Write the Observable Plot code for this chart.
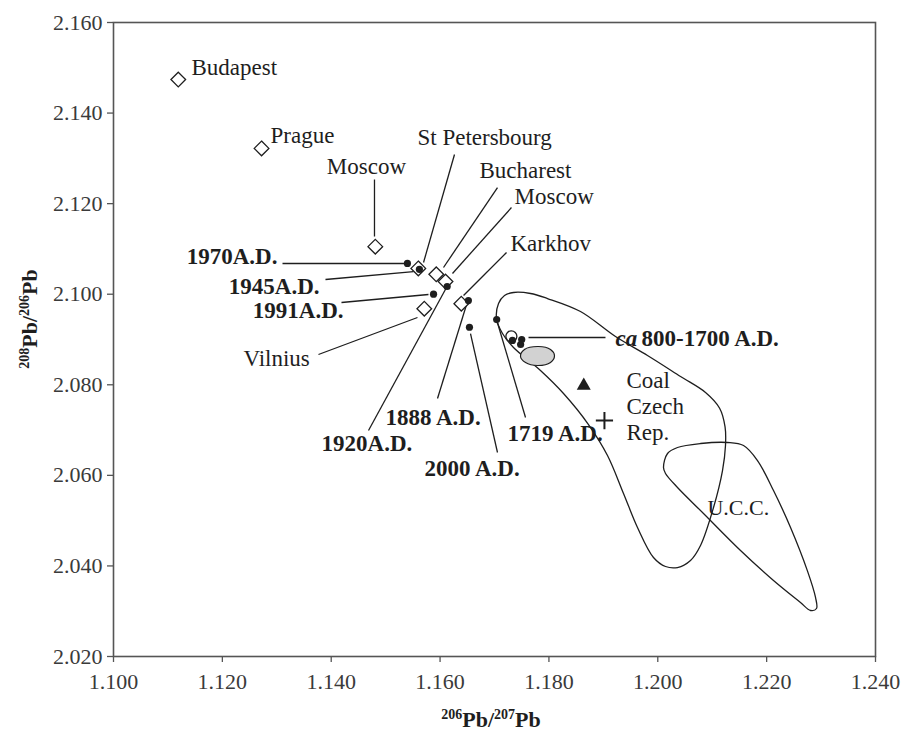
<!DOCTYPE html>
<html>
<head>
<meta charset="utf-8">
<script src="https://cdn.jsdelivr.net/npm/d3@7"></script>
<script src="https://cdn.jsdelivr.net/npm/@observablehq/plot@0.6"></script>
<style>
  html, body { margin: 0; padding: 0; background: #fff; }
  #chart { width: 901px; height: 731px; }
</style>
</head>
<body>
<div id="chart"></div>
<script>
// ---- axis ticks ----
const xTicks = [1.10, 1.12, 1.14, 1.16, 1.18, 1.20, 1.22, 1.24];
const yTicks = [2.02, 2.04, 2.06, 2.08, 2.10, 2.12, 2.14, 2.16];

// ---- city aerosols (open diamonds) ----
const cityNames = ["Budapest", "Prague", "Moscow", "St Petersbourg", "Bucharest", "Moscow", "Karkhov", "Vilnius"];
const cityX = [1.1119, 1.1272, 1.1481, 1.1560, 1.1593, 1.1610, 1.1639, 1.1571];
const cityY = [2.1474, 2.1322, 2.1105, 2.1057, 2.1044, 2.1028, 2.0979, 2.0968];

// ---- dated samples (black dots) ----
const dateNames = ["1970A.D.", "1945A.D.", "1991A.D.", "1920A.D.", "1888 A.D.", "2000 A.D.", "1719 A.D."];
const dateX = [1.1540, 1.1562, 1.1588, 1.1613, 1.1652, 1.1654, 1.1704];
const dateY = [2.1068, 2.1055, 2.1000, 2.1017, 2.0986, 2.0927, 2.0944];

// ---- ca 800-1700 A.D. cluster ----
const ancientX = [1.1733, 1.1750, 1.1748];
const ancientY = [2.0898, 2.0900, 2.0889];
const ancientCircleX = [1.1731];
const ancientCircleY = [2.0907];
const ancientFieldX = [1.17478, 1.17551, 1.17809, 1.18029, 1.18102, 1.18029, 1.17790, 1.17570];
const ancientFieldY = [2.08625, 2.08779, 2.08845, 2.08779, 2.08647, 2.08492, 2.08426, 2.08492];

// ---- coal Czech Rep. ----
const coalTriX = [1.1864], coalTriY = [2.0798];
const coalPlusX = [1.1902], coalPlusY = [2.0721];

// ---- envelope of Czech coal field ----
const coalFieldX = [1.17037, 1.17074, 1.17184, 1.17349, 1.17662, 1.17974, 1.18580, 1.19223, 1.19811, 1.20418,
  1.20877, 1.21136, 1.21236, 1.21244, 1.21189, 1.21024, 1.20785, 1.20601, 1.20362, 1.20142,
  1.19921, 1.19627, 1.19370, 1.19076, 1.18727, 1.18268, 1.17845, 1.17349, 1.17147];
const coalFieldY = [2.09464, 2.09795, 2.09972, 2.10038, 2.10016, 2.09905, 2.09618, 2.09066, 2.08647, 2.08183,
  2.07830, 2.07483, 2.07071, 2.06659, 2.06107, 2.05290, 2.04451, 2.04120, 2.03965, 2.03987,
  2.04186, 2.04849, 2.05600, 2.06439, 2.07123, 2.07808, 2.08316, 2.08823, 2.09132];

// ---- upper continental crust field ----
const uccX = [1.20105, 1.20179, 1.20362, 1.20785, 1.21281, 1.21575, 1.21832, 1.22126, 1.22439, 1.22751,
  1.22898, 1.22916, 1.22806, 1.22622, 1.22126, 1.21520, 1.20840, 1.20362, 1.20142];
const uccY = [2.06173, 2.06483, 2.06615, 2.06703, 2.06726, 2.06659, 2.06328, 2.05665, 2.04849, 2.03885,
  2.03303, 2.03060, 2.03016, 2.03192, 2.03678, 2.04341, 2.05158, 2.05732, 2.06041];

// ---- place-name labels ----
const placeText = ["Budapest", "Prague", "Moscow", "St Petersbourg", "Bucharest", "Moscow", "Karkhov", "Vilnius"];
const placeLabelX = [1.11433, 1.12885, 1.14648, 1.15585, 1.16724, 1.17368, 1.17294, 1.12388];
const placeLabelY = [2.15006, 2.13505, 2.12820, 2.13461, 2.12732, 2.12158, 2.11120, 2.08580];
const placeAnchor = ["start", "start", "middle", "start", "start", "start", "start", "start"];

// ---- date labels ----
const dateLabelX = [1.13013, 1.13785, 1.14226, 1.13822, 1.14997, 1.15714, 1.17239];
const dateLabelY = [2.10833, 2.10170, 2.09640, 2.06703, 2.07278, 2.06151, 2.06924];
const dateAnchor = ["end", "end", "end", "start", "start", "start", "start"];

// ---- leader lines ----
const leadX1 = [1.14795, 1.16265, 1.17055, 1.17312, 1.17221, 1.13766,
  1.13105, 1.13895, 1.14189, 1.14685, 1.15953, 1.17055, 1.17570, 1.17625];
const leadY1 = [2.12533, 2.13085, 2.12356, 2.11915, 2.10921, 2.08669,
  2.10678, 2.10325, 2.09817, 2.06991, 2.07697, 2.06505, 2.07278, 2.09044];
const leadX2 = [1.14795, 1.15696, 1.16063, 1.16228, 1.16431, 1.15585,
  1.15365, 1.15512, 1.15787, 1.16118, 1.16504, 1.16559, 1.17037, 1.19039];
const leadY2 = [2.11274, 2.10700, 2.10590, 2.10457, 2.09972, 2.09486,
  2.10678, 2.10501, 2.09994, 2.10148, 2.09839, 2.09132, 2.09442, 2.09044];

// ---- other labels ----
const ancientLabelX = [1.19223], ancientLabelY = [2.09022];
const coalText = ["Coal", "Czech", "Rep."];
const coalLabelX = [1.19425, 1.19425, 1.19425];
const coalLabelY = [2.08095, 2.07520, 2.06946];
const uccText = ["U.C.C."], uccLabelX = [1.20913], uccLabelY = [2.05291];

// ---- build tables ----
const zipXY = (xs, ys) => xs.map((x, i) => ({x, y: ys[i]}));
const cities = cityNames.map((n, i) => ({name: n, x: cityX[i], y: cityY[i]}));
const dates = dateNames.map((n, i) => ({name: n, x: dateX[i], y: dateY[i]}));
const places = placeText.map((t, i) => ({t, x: placeLabelX[i], y: placeLabelY[i], a: placeAnchor[i]}));
const dateLabels = dateNames.map((t, i) => ({t, x: dateLabelX[i], y: dateLabelY[i], a: dateAnchor[i]}));
const leaders = leadX1.map((x1, i) => ({x1, y1: leadY1[i], x2: leadX2[i], y2: leadY2[i]}));
const coalLabels = coalText.map((t, i) => ({t, x: coalLabelX[i], y: coalLabelY[i]}));

const ink = "#1e1e1e";
const serif = "'Liberation Serif', 'Times New Roman', serif";

const textMarks = (data, opts) => ["start", "middle", "end"].map(a =>
  Plot.text(data.filter(d => d.a === a), {x: "x", y: "y", text: "t", textAnchor: a, fill: ink, ...opts}));

const plot = Plot.plot({
  width: 901,
  height: 731,
  marginLeft: 113,
  marginRight: 26,
  marginTop: 22,
  marginBottom: 75,
  x: {domain: [1.10, 1.24]},
  y: {domain: [2.02, 2.16]},
  style: {fontFamily: serif, fontSize: "22px", background: "#fff", color: ink},
  marks: [
    Plot.axisX({ticks: xTicks, tickFormat: d3.format(".3f"), tickSize: 6, tickPadding: 11,
      fontSize: 22, fill: "#3a3a3a", stroke: "#555", strokeWidth: 1.3, label: null}),
    Plot.axisY({ticks: yTicks, tickFormat: d3.format(".3f"), tickSize: 6, tickPadding: 5,
      fontSize: 22, fill: "#3a3a3a", stroke: "#555", strokeWidth: 1.3, label: null}),
    Plot.frame({stroke: "#555", strokeWidth: 1.6}),
    // fields
    Plot.line(zipXY(coalFieldX, coalFieldY), {x: "x", y: "y", curve: "catmull-rom-closed", stroke: ink, strokeWidth: 1.3}),
    Plot.line(zipXY(uccX, uccY), {x: "x", y: "y", curve: "catmull-rom-closed", stroke: ink, strokeWidth: 1.3}),
    Plot.line(zipXY(ancientFieldX, ancientFieldY), {x: "x", y: "y", curve: "catmull-rom-closed",
      fill: "#d2d2d2", stroke: ink, strokeWidth: 1.2}),
    // leaders
    Plot.link(leaders, {x1: "x1", y1: "y1", x2: "x2", y2: "y2", stroke: ink, strokeWidth: 1.3}),
    // markers
    Plot.dot(cities, {x: "x", y: "y", symbol: "diamond2", r: 6.6, stroke: ink, fill: "#fff", strokeWidth: 1.3}),
    Plot.dot(zipXY(ancientCircleX, ancientCircleY), {x: "x", y: "y", r: 5.5, stroke: ink, fill: "#fff", strokeWidth: 1.3}),
    Plot.dot(dates, {x: "x", y: "y", r: 3.6, fill: ink}),
    Plot.dot(zipXY(ancientX, ancientY), {x: "x", y: "y", r: 3.6, fill: ink}),
    Plot.dot(zipXY(coalTriX, coalTriY), {x: "x", y: "y", symbol: "triangle", r: 5.2, fill: ink}),
    Plot.dot(zipXY(coalPlusX, coalPlusY), {x: "x", y: "y", symbol: "plus", r: 5.6, stroke: ink, strokeWidth: 2}),
    // labels
    ...textMarks(places, {fontSize: 23}),
    ...textMarks(dateLabels, {fontSize: 23, fontWeight: "bold"}),
    Plot.text(zipXY(ancientLabelX, ancientLabelY), {x: "x", y: "y", text: () => "ca", textAnchor: "start",
      fontSize: 23, fontWeight: "bold", fontStyle: "italic", fill: ink}),
    Plot.text(zipXY(ancientLabelX, ancientLabelY), {x: "x", y: "y", text: () => "800-1700 A.D.", textAnchor: "start",
      dx: 26, fontSize: 23, fontWeight: "bold", fill: ink}),
    Plot.text(coalLabels, {x: "x", y: "y", text: "t", textAnchor: "start", fontSize: 23, fill: ink}),
    Plot.text(zipXY(uccLabelX, uccLabelY), {x: "x", y: "y", text: () => uccText[0], textAnchor: "start", fontSize: 22, fill: ink})
  ]
});

document.getElementById("chart").appendChild(plot);

// axis titles with superscripts
const svg = d3.select(plot);
const xs = plot.scale("x"), ys = plot.scale("y");
const cx = (xs.apply(1.10) + xs.apply(1.24)) / 2 - 3;
const bottom = ys.apply(2.02);
function isotopeTitle(sel, a, b) {
  sel.attr("font-family", serif).attr("font-weight", "bold").attr("font-size", 22).attr("fill", ink)
    .attr("text-anchor", "middle");
  sel.append("tspan").attr("font-size", 14).attr("dy", -8).text(a);
  sel.append("tspan").attr("dy", 8).text("Pb/");
  sel.append("tspan").attr("font-size", 14).attr("dy", -8).text(b);
  sel.append("tspan").attr("dy", 8).text("Pb");
}
svg.append("text").attr("x", cx).attr("y", bottom + 71).call(isotopeTitle, "206", "207");
svg.append("text").attr("transform", `translate(37, ${(ys.apply(2.16) + bottom) / 2 - 20}) rotate(-90)`)
  .call(isotopeTitle, "208", "206");
</script>
</body>
</html>
